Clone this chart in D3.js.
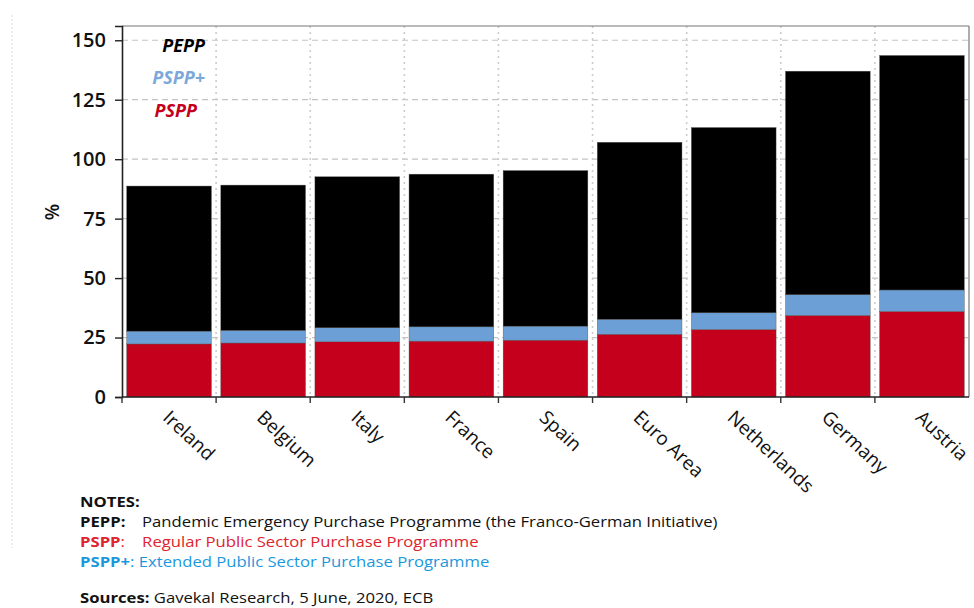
<!DOCTYPE html>
<html>
<head>
<meta charset="utf-8">
<script src="https://cdn.jsdelivr.net/npm/d3@7"></script>
<style>
  html, body { margin: 0; padding: 0; background: #fff; }
  svg { display: block; font-family: "Open Sans", "Noto Sans", sans-serif; }
</style>
</head>
<body>
<svg id="chart" width="974" height="608"></svg>
<script>
// ---- data ----
const categories = ["Ireland", "Belgium", "Italy", "France", "Spain", "Euro Area", "Netherlands", "Germany", "Austria"];
const pspp      = [22.3, 22.7, 23.2, 23.5, 23.9, 26.4, 28.4, 34.3, 36.0];
const psppPlus  = [5.4, 5.3, 5.9, 6.0, 5.9, 6.3, 7.0, 8.7, 9.0];
const pepp      = [61.0, 61.1, 63.5, 64.2, 65.4, 74.4, 77.9, 94.0, 98.6];
const yTicks    = [0, 25, 50, 75, 100, 125, 150];
const seriesNames  = ["PSPP", "PSPP+", "PEPP"];
const seriesColors = ["#c5001c", "#6c9fd6", "#000000"];

// ---- layout ----
const svg = d3.select("#chart");
const mLeft = 122, mRight = 969, mTop = 26, mBottom = 397;

const x = d3.scaleBand().domain(categories).range([mLeft, mRight]).paddingInner(0.1).paddingOuter(0.05);
const xGrid = d3.scaleBand().domain(categories).range([mLeft, mRight]).padding(0);
const y = d3.scaleLinear().domain([0, 156]).range([mBottom, mTop]);

// faint page border line on left
svg.append("line").attr("x1", 12).attr("x2", 12).attr("y1", 15).attr("y2", 548)
  .attr("stroke", "#d8d8d8").attr("stroke-dasharray", "2,2");

// horizontal dashed gridlines
svg.append("g").selectAll("line").data(yTicks.filter(d => d > 0)).join("line")
  .attr("x1", mLeft).attr("x2", mRight)
  .attr("y1", d => y(d)).attr("y2", d => y(d))
  .attr("stroke", "#c4c4c4").attr("stroke-width", 1.2).attr("stroke-dasharray", "6,4");

// vertical dotted gridlines at band boundaries
svg.append("g").selectAll("line").data(categories.slice(1)).join("line")
  .attr("x1", d => xGrid(d)).attr("x2", d => xGrid(d))
  .attr("y1", mTop).attr("y2", mBottom)
  .attr("stroke", "#cccccc").attr("stroke-width", 1.6).attr("stroke-dasharray", "2,4");

// stacked bars
const rows = categories.map((c, i) => ({ cat: c, PSPP: pspp[i], "PSPP+": psppPlus[i], PEPP: pepp[i] }));
const stacked = d3.stack().keys(seriesNames)(rows);
svg.append("g").selectAll("g").data(stacked).join("g")
  .attr("fill", (d, i) => seriesColors[i])
  .selectAll("rect").data(d => d).join("rect")
  .attr("x", d => x(d.data.cat))
  .attr("width", x.bandwidth())
  .attr("y", d => y(d[1]))
  .attr("height", d => y(d[0]) - y(d[1]))
  .attr("stroke", "#555").attr("stroke-width", 0.4);

// frame top/right
svg.append("line").attr("x1", mLeft).attr("x2", mRight).attr("y1", mTop).attr("y2", mTop).attr("stroke", "#777").attr("stroke-width", 1.2);
svg.append("line").attr("x1", mRight).attr("x2", mRight).attr("y1", mTop).attr("y2", mBottom).attr("stroke", "#777").attr("stroke-width", 1.2);

// y axis
const yAxis = svg.append("g").attr("transform", `translate(${mLeft},0)`)
  .call(d3.axisLeft(y).tickValues(yTicks).tickSize(7).tickPadding(9));
yAxis.select(".domain").attr("stroke", "#222").attr("stroke-width", 1.6);
yAxis.selectAll(".tick line").attr("stroke", "#222").attr("stroke-width", 1.4);
yAxis.selectAll(".tick text").attr("font-size", 20).attr("font-weight", 600).attr("fill", "#111")
  .attr("font-family", "'Open Sans', sans-serif");

// x axis: ticks at band boundaries
const boundaries = categories.map(c => xGrid(c));
svg.append("line").attr("x1", mLeft).attr("x2", mRight).attr("y1", mBottom).attr("y2", mBottom)
  .attr("stroke", "#222").attr("stroke-width", 1.6);
svg.append("g").selectAll("line").data(boundaries).join("line")
  .attr("x1", d => d).attr("x2", d => d).attr("y1", mBottom).attr("y2", mBottom + 6)
  .attr("stroke", "#333").attr("stroke-width", 1.4);

// x labels rotated
svg.append("g").selectAll("text").data(categories).join("text")
  .attr("transform", d => `translate(${xGrid(d) + xGrid.bandwidth() / 2 + 3},${mBottom + 11}) rotate(43)`)
  .attr("dy", "0.8em")
  .attr("text-anchor", "start")
  .attr("font-size", 19).attr("fill", "#111")
  .text(d => d);

// y label
svg.append("text").attr("transform", "translate(52,212) rotate(-90)")
  .attr("text-anchor", "middle").attr("dy", "0.35em")
  .attr("font-size", 19).attr("font-weight", 600).attr("fill", "#111").text("%");

// in-chart legend
const legendItems = [
  { name: "PEPP", color: "#000000", x: 205, y: 52 },
  { name: "PSPP+", color: "#7ca8da", x: 205, y: 84 },
  { name: "PSPP", color: "#c5001c", x: 197, y: 117 }
];
svg.append("g").selectAll("text").data(legendItems).join("text")
  .attr("x", d => d.x).attr("y", d => d.y)
  .attr("text-anchor", "end")
  .attr("font-size", 18).attr("font-weight", 700).attr("font-style", "italic")
  .attr("fill", d => d.color).text(d => d.name);

// notes (horizontally stretched like the reference)
const notes = svg.append("g").attr("font-size", 14.5).attr("transform", "translate(80,0) scale(1.15,1)");
notes.append("text").attr("x", 0).attr("y", 507).attr("font-weight", 700).attr("fill", "#111").text("NOTES:");
const noteRows = [
  { key: "PEPP:", desc: "Pandemic Emergency Purchase Programme (the Franco-German Initiative)", color: "#111", dx: 54, y: 527 },
  { key: "PSPP", desc: "Regular Public Sector Purchase Programme", color: "#e0242d", dx: 54, y: 547, colon: ":" },
  { key: "PSPP+", desc: "Extended Public Sector Purchase Programme", color: "#1b98dd", dx: 0, y: 567, colon: ":" }
];
noteRows.forEach(r => {
  const t = notes.append("text").attr("x", 0).attr("y", r.y).attr("fill", r.color);
  t.append("tspan").attr("font-weight", 700).text(r.key);
  if (r.colon) t.append("tspan").text(r.colon + (r.dx ? "" : " "));
  if (r.dx) {
    notes.append("text").attr("x", r.dx).attr("y", r.y).attr("fill", r.color).text(r.desc);
  } else {
    t.append("tspan").text(r.desc);
  }
});
const src = notes.append("text").attr("x", 0).attr("y", 603).attr("fill", "#111");
src.append("tspan").attr("font-weight", 700).text("Sources: ");
src.append("tspan").text("Gavekal Research, 5 June, 2020, ECB");
</script>
</body>
</html>
